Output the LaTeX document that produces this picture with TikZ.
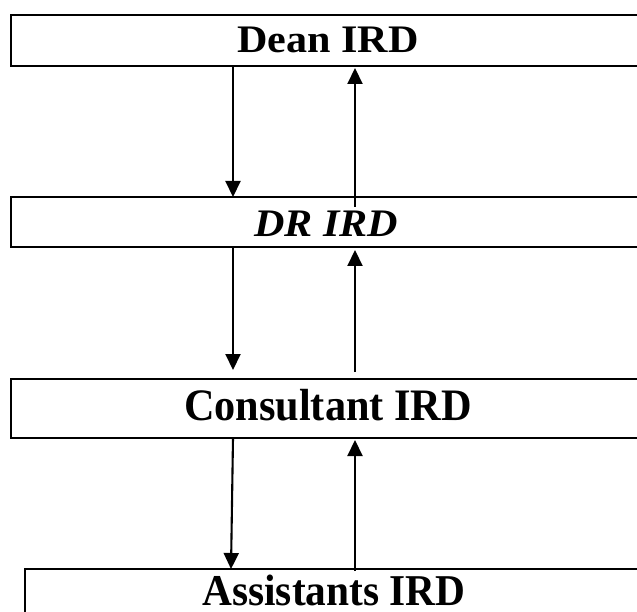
\documentclass[tikz,border=0pt]{standalone}
\usepackage{fontspec}
\usepackage{graphicx}
\setmainfont{Liberation Serif}
\usetikzlibrary{arrows.meta}
\tikzset{
  boxline/.style={draw=black,line width=2.6pt},
  link/.style={draw=black,line width=2.1pt,-{Triangle[width=15pt,length=16pt]}},
  lbl/.style={inner sep=0pt,anchor=base}
}
\begin{document}
\begin{tikzpicture}[x=1pt,y=-1pt]
\useasboundingbox (0,0) rectangle (637,612);
\clip (0,0) rectangle (637,612);
% boxes
\draw[boxline] (11,15) rectangle (660,66);
\draw[boxline] (11,197) rectangle (660,247);
\draw[boxline] (11,379) rectangle (660,438);
\draw[boxline] (25,569) rectangle (660,660);
% labels
\node[lbl] (dean) at (328,53) {\scalebox{1.08}[1]{\fontsize{39}{39}\selectfont\bfseries Dean IRD}};
\node[lbl] (dr) at (326,237) {\scalebox{1.08}[1]{\fontsize{39}{39}\selectfont\bfseries\itshape DR IRD}};
\node[lbl] (cons) at (328,420) {\scalebox{0.94}[1]{\fontsize{45}{45}\selectfont\bfseries Consultant IRD}};
\node[lbl] (asst) at (334,605) {\scalebox{0.94}[1]{\fontsize{44}{44}\selectfont\bfseries Assistants IRD}};
% connector end points
\coordinate (d1) at (233,66);  \coordinate (d2) at (233,197);
\coordinate (u1) at (355,207); \coordinate (u2) at (355,68);
\coordinate (d3) at (233,247); \coordinate (d4) at (233,370);
\coordinate (u3) at (355,372); \coordinate (u4) at (355,250);
\coordinate (d5) at (233,438); \coordinate (d6) at (231,569);
\coordinate (u5) at (355,571); \coordinate (u6) at (355,440);
\draw[link] (d1) -- (d2);
\draw[link] (u1) -- (u2);
\draw[link] (d3) -- (d4);
\draw[link] (u3) -- (u4);
\draw[link] (d5) -- (d6);
\draw[link] (u5) -- (u6);
\end{tikzpicture}
\end{document}
